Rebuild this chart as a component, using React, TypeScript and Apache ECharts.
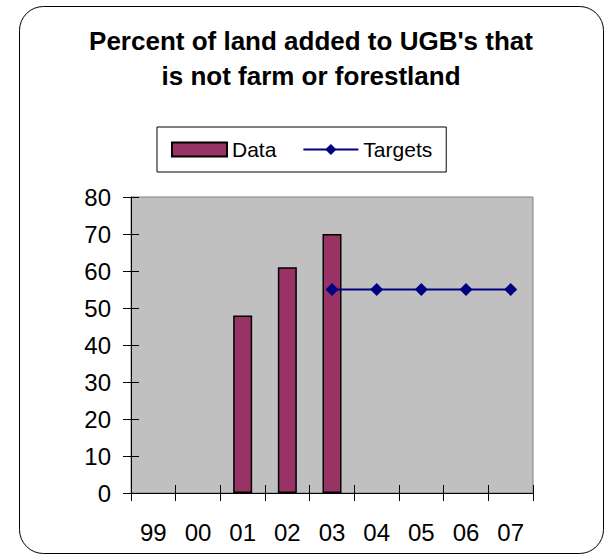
import React, { useEffect, useRef } from "react";
import * as echarts from "echarts";

const categories = ["99", "00", "01", "02", "03", "04", "05", "06", "07"];
const dataValues: (number | null)[] = [null, null, 48, 61, 70, null, null, null, null];
const targetValues: (number | null)[] = [null, null, null, null, 55, 55, 55, 55, 55];
const titleLines = ["Percent of land added to UGB's that", "is not farm or forestland"];

const FONT = "'Liberation Sans', Arial, sans-serif";

export default function App() {
  const ref = useRef<HTMLDivElement>(null);
  useEffect(() => {
    if (!ref.current) return;
    const chart = echarts.init(ref.current, undefined, { renderer: "svg" });
    const grid = { left: 131, top: 197, width: 402, height: 296 };
    chart.setOption({
      animation: false,
      backgroundColor: "#ffffff",
      textStyle: { fontFamily: FONT },
      graphic: [
        {
          type: "rect",
          shape: { x: 19.5, y: 6.5, width: 584, height: 547, r: 24 },
          style: { fill: "none", stroke: "#000", lineWidth: 1 },
          z: 0,
        },
        {
          type: "text",
          x: 311,
          y: 23,
          style: {
            text: titleLines.join("\n"),
            font: `bold 26px ${FONT}`,
            fill: "#000",
            align: "center",
            verticalAlign: "top",
            lineHeight: 35,
          },
        },
      ],
      legend: {
        left: 157,
        top: 127,
        orient: "horizontal",
        padding: [12, 14, 12, 14],
        itemGap: 26,
        itemWidth: 55,
        itemHeight: 14,
        borderColor: "#000",
        borderWidth: 1,
        textStyle: { fontSize: 21, color: "#000", fontFamily: FONT },
        data: [
          { name: "Data", icon: "rect" },
          { name: "Targets" },
        ],
      },
      grid: {
        ...grid,
        show: true,
        backgroundColor: "#C0C0C0",
        borderColor: "#808080",
        borderWidth: 1,
      },
      xAxis: [
        {
          type: "category",
          data: categories,
          boundaryGap: true,
          axisLine: { show: true, lineStyle: { color: "#000", width: 1 } },
          axisTick: { show: true, inside: false, length: 8, alignWithLabel: false, lineStyle: { color: "#000" } },
          axisLabel: { fontSize: 24, color: "#000", margin: 27, fontFamily: FONT, interval: 0 },
          splitLine: { show: false },
        },
        {
          type: "category",
          data: categories,
          position: "bottom",
          boundaryGap: true,
          axisLine: { show: false },
          axisTick: { show: true, inside: true, length: 8, lineStyle: { color: "#000" } },
          axisLabel: { show: false },
          splitLine: { show: false },
        },
      ],
      yAxis: [
        {
          type: "value",
          min: 0,
          max: 80,
          interval: 10,
          axisLine: { show: true, lineStyle: { color: "#000", width: 1 } },
          axisTick: { show: true, inside: false, length: 8, lineStyle: { color: "#000" } },
          axisLabel: { fontSize: 24, color: "#000", margin: 20, fontFamily: FONT },
          splitLine: { show: false },
        },
        {
          type: "value",
          min: 0,
          max: 80,
          interval: 10,
          position: "left",
          axisLine: { show: false },
          axisTick: { show: true, inside: true, length: 8, lineStyle: { color: "#000" } },
          axisLabel: { show: false },
          splitLine: { show: false },
        },
      ],
      series: [
        {
          name: "Data",
          type: "bar",
          xAxisIndex: 0,
          yAxisIndex: 0,
          data: dataValues,
          barWidth: 19,
          itemStyle: { color: "#993366", borderColor: "#000", borderWidth: 1.5 },
        },
        {
          name: "Targets",
          type: "line",
          xAxisIndex: 0,
          yAxisIndex: 0,
          data: targetValues,
          symbol: "diamond",
          symbolSize: 13,
          showSymbol: true,
          lineStyle: { color: "#000080", width: 2 },
          itemStyle: { color: "#000080" },
          z: 3,
        },
      ],
    });
    return () => chart.dispose();
  }, []);
  return (
    <div
      ref={ref}
      style={{ position: "absolute", left: 0, top: 0, width: 605, height: 555 }}
    />
  );
}
